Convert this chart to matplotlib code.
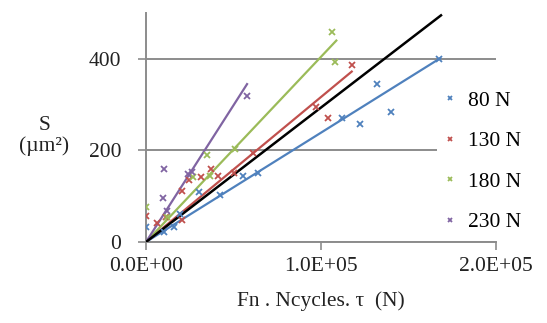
import numpy as np
import matplotlib.pyplot as plt
from matplotlib.ticker import FuncFormatter

plt.rcParams["font.family"] = ["Liberation Serif", "DejaVu Serif"]

labels = ["80 N", "130 N", "180 N", "230 N"]
colors = ["#4F81BD", "#C0504D", "#9BBB59", "#8064A2"]

x_80 = [0, 10500, 16200, 19500, 30500, 42500, 55500, 64000, 112000, 122000, 132000, 140000, 167500]
y_80 = [32, 22, 32, 60, 110, 103, 144, 151, 272, 258, 345, 284, 400]

x_130 = [0, 6000, 11500, 20500, 20500, 24500, 31500, 37000, 41000, 50000, 61000, 97000, 104000, 117500]
y_130 = [57, 42, 54, 48, 112, 136, 141, 160, 144, 151, 195, 294, 271, 386]

x_180 = [0, 11800, 27000, 34800, 36500, 50600, 106500, 108000]
y_180 = [76, 55, 143, 190, 145, 203, 460, 394]

x_230 = [9500, 10500, 11800, 24000, 26000, 57700]
y_230 = [95, 160, 68, 149, 152, 318]

# trendlines through the origin (slope in um^2 per N) and their end x
fit_slope = [2.39e-3, 3.17e-3, 4.05e-3, 5.98e-3]
fit_end = [168000, 117500, 108700, 57700]

# overall black trendline
all_end_x = 168500
all_slope = 2.94e-3

series = [(x_80, y_80), (x_130, y_130), (x_180, y_180), (x_230, y_230)]

fig = plt.figure(figsize=(5.47, 3.23), dpi=100)
ax = fig.add_axes([0.267, 0.251, 0.640, 0.708])

for (xs, ys), c, lab, k, xe in zip(series, colors, labels, fit_slope, fit_end):
    xl = np.array([0, xe])
    ax.plot(xl, k * xl, color=c, linewidth=1.6, zorder=3)
    ax.plot(xs, ys, linestyle="none", marker="x", markersize=4.5,
            markeredgewidth=1.3, color=c, label=lab, zorder=4)

xb = np.array([0, all_end_x])
ax.plot(xb, all_slope * xb, color="black", linewidth=1.8, zorder=3)

ax.set_xlim(0, 2e5)
ax.set_ylim(0, 500)
ax.set_xticks([0, 1e5, 2e5])
ax.set_yticks([0, 200, 400])
ax.xaxis.set_major_formatter(FuncFormatter(lambda v, p: f"{v:.1E}"))
ax.yaxis.set_major_formatter(FuncFormatter(lambda v, p: f"{v:.0f}"))
ax.grid(axis="y", color="#8c8c8c", linewidth=1.4)
ax.set_axisbelow(True)

for s in ["top", "right"]:
    ax.spines[s].set_visible(False)
for s in ["left", "bottom"]:
    ax.spines[s].set_color("#8c8c8c")
    ax.spines[s].set_linewidth(1.4)

ax.tick_params(axis="both", colors="#8c8c8c", width=1.2, length=6,
               labelsize=15.5, labelcolor="#222222")
ax.tick_params(axis="y", pad=12)
ax.tick_params(axis="x", pad=5)

ax.set_xlabel("Fn . Ncycles. τ  (N)", fontsize=15.5, color="#222222", labelpad=11)
fig.text(0.081, 0.58, "S\n(µm²)", fontsize=15.5, color="#222222",
         ha="center", va="center", linespacing=1.1)

leg = ax.legend(loc="upper left", bbox_to_anchor=(0.78, 0.772),
                bbox_transform=fig.transFigure, frameon=True, fontsize=15.5,
                markerscale=0.7, handlelength=0.6, handletextpad=0.5,
                labelspacing=0.95, borderpad=0.3)
leg.get_frame().set_facecolor("white")
leg.get_frame().set_edgecolor("none")
leg.get_frame().set_alpha(1)

fig.savefig("out.png", dpi=100)
